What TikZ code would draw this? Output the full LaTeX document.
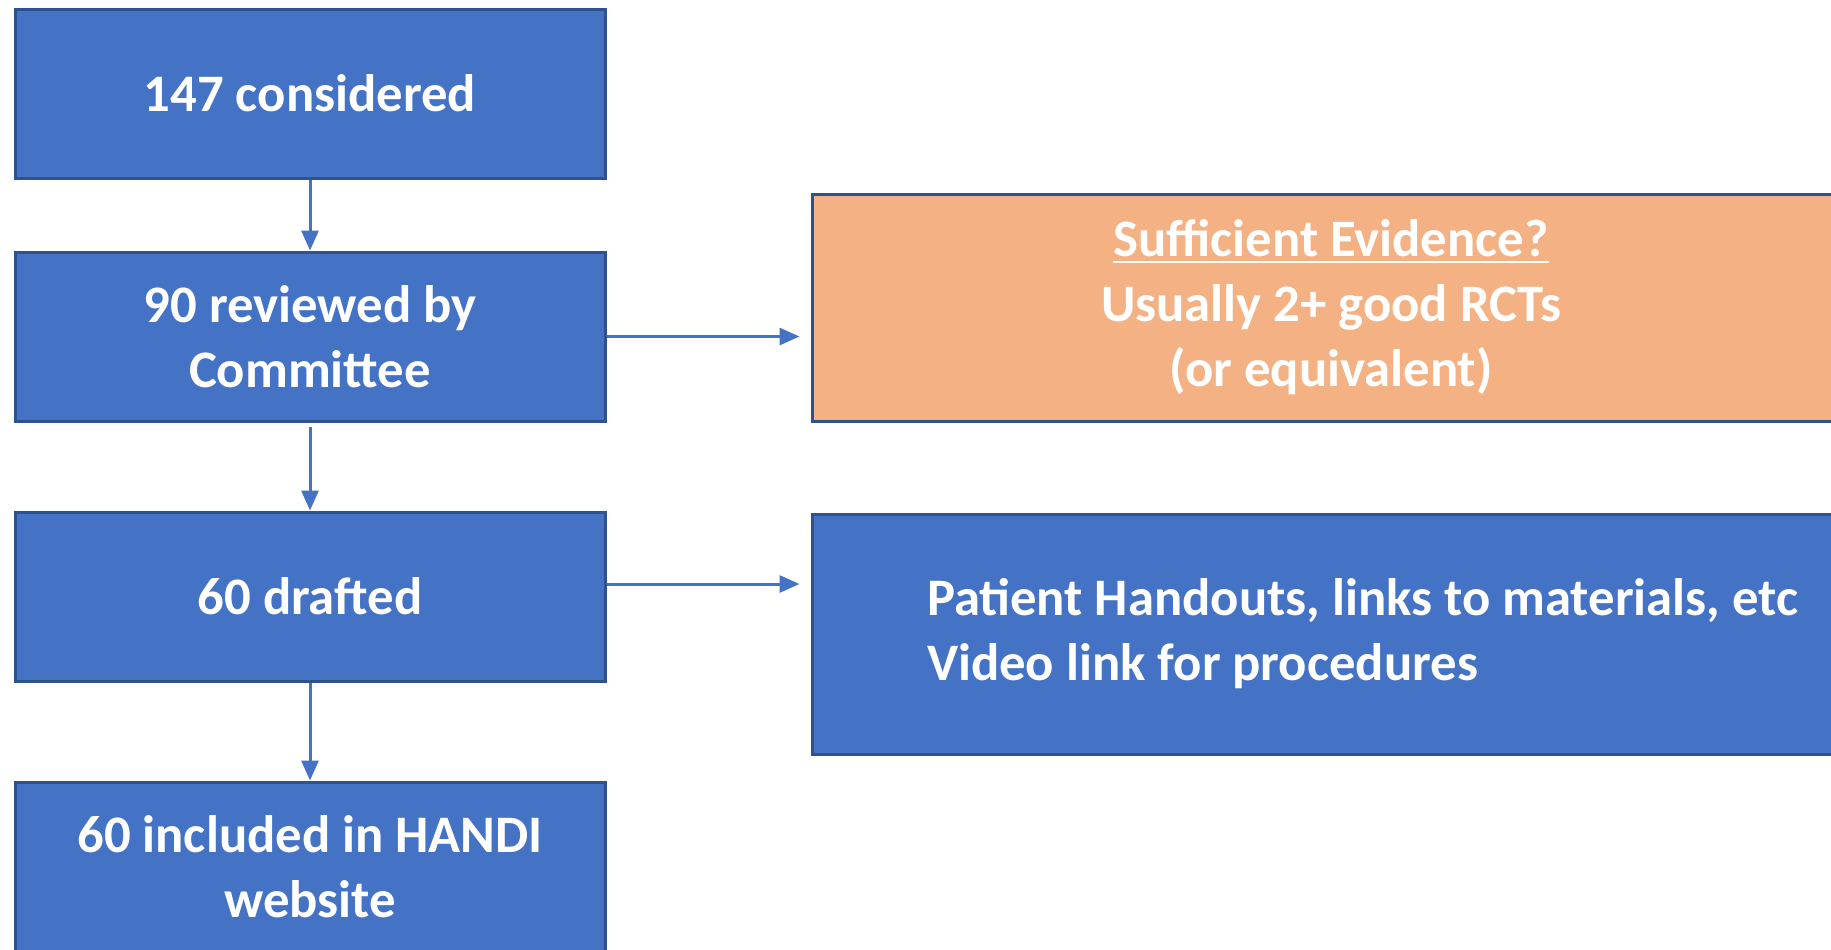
\documentclass[tikz,border=0pt]{standalone}
\usepackage{fontspec}
\setmainfont{Carlito}
\usepackage{xcolor}
\usetikzlibrary{arrows.meta,positioning}
\definecolor{cBlue}{HTML}{4472C4}
\definecolor{cEdge}{HTML}{2F528F}
\definecolor{cOrange}{HTML}{F4B183}

\begin{document}
\begin{tikzpicture}[
  font=\fontsize{15}{18.5}\selectfont\bfseries,
  box/.style={draw=cEdge, fill=cBlue, text=white, line width=0.3mm, align=center, minimum width=59mm, minimum height=16.9mm, inner sep=0pt},
  side/.style={draw=cEdge, fill=#1, text=white, line width=0.3mm, minimum width=103.8mm, inner sep=0pt},
  arr/.style={-{Triangle[length=2mm, width=1.7mm]}, line width=0.3mm, cBlue},
  node distance=7.1mm and 20.4mm,
]
\useasboundingbox (0,0) rectangle (183.1mm,-94.9mm);
% ── main column ───────────────────────────────────────────────────────────
\node[box] (b1) at (31mm,-9.35mm) {147 considered};
\node[box, below=of b1] (b2) {90 reviewed by\\Committee};
\node[box, below=8.8mm of b2] (b3) {60 drafted};
\node[box, below=9.8mm of b3] (b4) {60 included in HANDI\\website};

% ── side boxes ────────────────────────────────────────────────────────────
\node[side=cOrange, right=of b2, yshift=2.9mm, minimum height=22.7mm, align=center] (ev) {\underline{Sufficient Evidence?}\\Usually 2+ good RCTs\\(or equivalent)};
\node[side=cBlue, right=of b3, yshift=-3.75mm, minimum height=24mm, align=flush left, text width=100mm, inner xsep=11.5mm] (res) {Patient Handouts, links to materials, etc\\Video link for procedures};

% ── arrows ────────────────────────────────────────────────────────────────
\draw[arr] (b1) -- (b2);
\draw[arr, shorten <=0.4mm] (b2) -- (b3);
\draw[arr] (b3) -- (b4);
\draw[arr, shorten >=1.1mm] (b2.east) -- (b2.east -| ev.west);
\draw[arr, shorten >=1.1mm] ([yshift=1.25mm]b3.east) -- ([yshift=1.25mm]b3.east -| res.west);
\end{tikzpicture}
\end{document}
